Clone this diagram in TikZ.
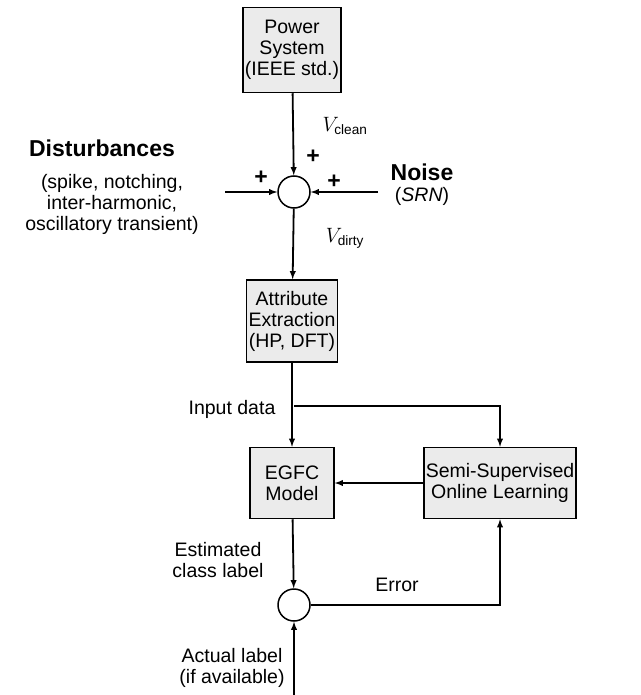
\documentclass[tikz,border=0pt]{standalone}
\usepackage{amsmath}
\usepackage{fontspec}
\setmainfont{Liberation Sans}
\usetikzlibrary{calc,positioning}
\begin{document}
\begin{tikzpicture}[x=1pt,y=-1pt,font=\fontsize{19.5}{21}\selectfont]
    \tikzstyle{block}=[draw,line width=1.5pt,fill=black!8,align=center,minimum width=84pt,inner sep=2pt]
    \tikzstyle{sum}=[draw,circle,line width=1.5pt,fill=white,minimum size=32pt,inner sep=0pt]
    \tikzstyle{flow}=[draw,line width=1.8pt,-latex]
    \tikzstyle{lbl}=[align=center,inner sep=1pt]
    \tikzstyle{big}=[font=\fontsize{23}{25}\selectfont\bfseries]
    \useasboundingbox (0,0) rectangle (640,695);
    \node[block,minimum height=85pt] (power) at (292,50) {Power\\System\\(IEEE std.)};
    \node[sum] (s1) at (294,192) {};
    \node[block,minimum height=82pt] (attr) at (292,321) {Attribute\\Extraction\\(HP, DFT)};
    \node[block,minimum height=71pt] (egfc) at (292,483) {EGFC\\Model};
    \node[block,minimum height=71pt,minimum width=151pt] (ssol) at (500,483) {Semi-Supervised\\Online Learning};
    \node[sum] (s2) at (294,605) {};
    \node[lbl,big] (dist) at (102,148) {Disturbances};
    \node[lbl] (distsub) at (112,204) {(spike, notching,\\inter-harmonic,\\oscillatory transient)};
    \node[lbl,big] (noise) at (422,172) {Noise};
    \node[lbl] (noisesub) at (422,196) {(\textit{SRN})};
    \node[lbl] (vclean) at (345,126) {$V_{\text{clean}}$};
    \node[lbl] (vdirty) at (345,238) {$V_{\text{dirty}}$};
    \node[lbl,big] at (313,157) {+};
    \node[lbl,big] at (261,178) {+};
    \node[lbl,big] at (334,182) {+};
    \node[lbl] (input) at (232,409) {Input data};
    \node[lbl] (est) at (218,560) {Estimated\\class label};
    \node[lbl] (err) at (397,585) {Error};
    \node[lbl] (actual) at (232,668) {Actual label\\(if available)};
    \coordinate (dl) at (225,192);
    \coordinate (nr) at (378,192);
    \coordinate (br) at (294,406);
    \coordinate (bottom) at (294,695);
    \draw[flow] (power) -- (s1);
    \draw[flow] (dl) -- (s1);
    \draw[flow] (nr) -- (s1);
    \draw[flow] (s1) -- (attr);
    \draw[flow] (attr) -- (egfc);
    \draw[flow] (br) -| (ssol);
    \draw[flow] (ssol) -- (egfc);
    \draw[flow] (egfc) -- (s2);
    \draw[flow] (s2) -| (ssol);
    \draw[flow] (bottom) -- (s2);
\end{tikzpicture}
\end{document}
